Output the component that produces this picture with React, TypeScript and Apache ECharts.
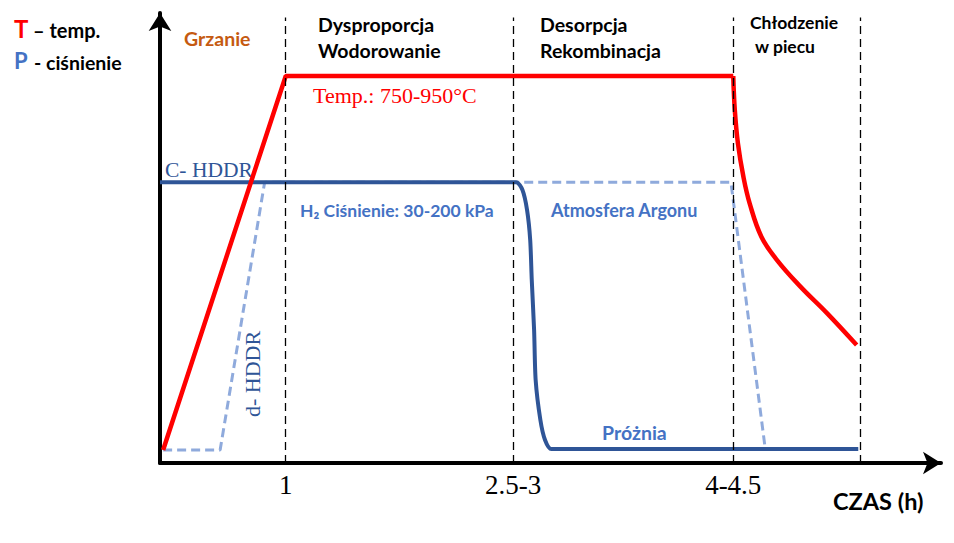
import React, { useEffect, useRef } from "react";
import * as echarts from "echarts";

// schematic units: x 0..100 (time, schematic), y 0..100 (level, schematic)
const phaseBounds = [16.1, 45.2, 73.4, 89.6];
const tickValues = [16.1, 45.2, 73.4];
const tickLabels = ["1", "2.5-3", "4-4.5"];

const tempHeating: [number, number][] = [
  [0.4, 2.9], [16.1, 86.0], [73.4, 86.0],
];
const tempCooling: [number, number][] = [
  [73.4, 86.0], [73.6, 78.4], [74.0, 71.0], [74.7, 63.6],
  [75.5, 57.7], [77.0, 50.3], [79.0, 45.1], [82.0, 39.2], [85.4, 33.3], [89.2, 26.2],
];
const cHddrCurve: [number, number][] = [
  [0, 62.4], [45.6, 62.4], [46.4, 60.7], [47.0, 56.2], [47.4, 49.6], [47.6, 40.7],
  [47.9, 29.6], [48.1, 18.4], [48.7, 9.6], [49.3, 5.1], [50.1, 3.1], [89.4, 3.1],
];
const dHddrCurve: [number, number][] = [
  [0.4, 2.9], [7.7, 2.9], [13.4, 62.4], [73.1, 62.4], [77.5, 3.1], [89.4, 3.1],
];

const SANS = "Lato, 'Noto Sans', sans-serif";
const SERIF = "'Liberation Serif', 'DejaVu Serif', serif";

export default function App() {
  const ref = useRef<HTMLDivElement>(null);
  useEffect(() => {
    if (!ref.current) return;
    const chart = echarts.init(ref.current, undefined, { renderer: "svg" });
    const txt = (text: string, x: number, y: number, fill: string, font: string, extra: any = {}) => ({
      type: "text",
      x,
      y,
      silent: true,
      ...extra,
      style: { text, fill, font, align: "left", verticalAlign: "middle", ...(extra.style || {}) },
    });
    const red = { color: "#ff0000", width: 4.5 };
    chart.setOption({
      animation: false,
      backgroundColor: "#ffffff",
      grid: { left: 160, top: 13, width: 781, height: 450 },
      xAxis: {
        type: "value",
        min: 0,
        max: 100,
        splitLine: { show: false },
        axisTick: { show: false },
        axisLine: {
          show: true,
          symbol: ["none", "arrow"],
          symbolSize: [17, 18],
          lineStyle: { color: "#000", width: 4 },
        },
        axisLabel: {
          customValues: tickValues,
          margin: 8,
          fontFamily: SERIF,
          fontSize: 27,
          color: "#000",
          formatter: (v: number) => {
            const i = tickValues.findIndex((t) => Math.abs(t - v) < 0.01);
            return i >= 0 ? tickLabels[i] : "";
          },
        },
      },
      yAxis: {
        type: "value",
        min: 0,
        max: 100,
        splitLine: { show: false },
        axisTick: { show: false },
        axisLabel: { show: false },
        axisLine: {
          show: true,
          symbol: ["none", "arrow"],
          symbolSize: [17, 18],
          lineStyle: { color: "#000", width: 4 },
        },
      },
      series: [
        {
          type: "line",
          name: "bounds",
          data: [],
          markLine: {
            silent: true,
            symbol: ["none", "none"],
            label: { show: false },
            lineStyle: { color: "#000", width: 1.3, type: [8, 5] },
            data: phaseBounds.map((b) => [{ coord: [b, 0] }, { coord: [b, 99] }]),
          },
        },
        {
          type: "line",
          name: "d-HDDR",
          data: dHddrCurve,
          symbol: "none",
          lineStyle: { color: "#8faadc", width: 3, type: [9, 5] },
          z: 2,
        },
        {
          type: "line",
          name: "C-HDDR",
          data: cHddrCurve,
          symbol: "none",
          smooth: 0.25,
          lineStyle: { color: "#2f5597", width: 4 },
          z: 3,
        },
        {
          type: "line",
          name: "T heating",
          data: tempHeating,
          symbol: "none",
          lineStyle: red,
          z: 4,
        },
        {
          type: "line",
          name: "T cooling",
          data: tempCooling,
          symbol: "none",
          smooth: 0.4,
          lineStyle: red,
          z: 4,
        },
      ],
      graphic: [
        txt("T", 14, 28, "#ff0000", `bold 24px ${SANS}`),
        txt("– temp.", 33, 30, "#000", `bold 20px ${SANS}`),
        txt("P", 14, 60, "#4472c4", `bold 22px ${SANS}`),
        txt("- ciśnienie", 34, 62, "#000", `bold 19.5px ${SANS}`),
        txt("Grzanie", 184, 38, "#c55a11", `bold 19.5px ${SANS}`),
        txt("Dysproporcja", 318, 24, "#000", `bold 19.5px ${SANS}`),
        txt("Wodorowanie", 318, 50, "#000", `bold 19.5px ${SANS}`),
        txt("Desorpcja", 540, 24, "#000", `bold 19.5px ${SANS}`),
        txt("Rekombinacja", 540, 50, "#000", `bold 19.5px ${SANS}`),
        txt("Chłodzenie", 750, 22, "#000", `bold 17.5px ${SANS}`),
        txt("w piecu", 755, 46, "#000", `bold 17.5px ${SANS}`),
        txt("Temp.: 750-950°C", 313, 95, "#ff0000", `22px ${SERIF}`),
        txt("C- HDDR", 165, 170, "#2f5597", `21.5px ${SERIF}`),
        txt("H₂ Ciśnienie: 30-200 kPa", 300, 210, "#4472c4", `bold 17.5px ${SANS}`),
        txt("Atmosfera Argonu", 551, 210, "#4472c4", `bold 18px ${SANS}`),
        txt("Próżnia", 602, 432, "#4472c4", `bold 19.5px ${SANS}`),
        txt("d- HDDR", 252, 374, "#2f5597", `22px ${SERIF}`, {
          rotation: Math.PI / 2,
          style: { align: "center" },
        }),
        txt("CZAS (h)", 833, 501, "#000", `bold 23.5px ${SANS}`),
      ],
    });
    return () => chart.dispose();
  }, []);
  return (
    <div
      ref={ref}
      style={{ position: "fixed", left: 0, top: 0, width: 954, height: 543, background: "#fff" }}
    />
  );
}
